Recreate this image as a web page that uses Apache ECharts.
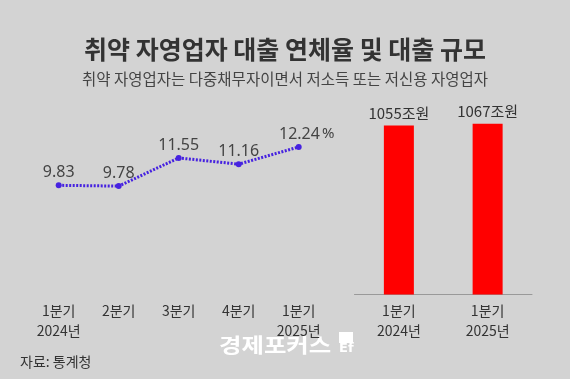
<!DOCTYPE html>
<html><head><meta charset="utf-8">
<script src="https://cdn.jsdelivr.net/npm/echarts@6/dist/echarts.min.js"></script>
<style>html,body{margin:0;padding:0;background:#d3d3d3;}#c{width:570px;height:379px;}</style>
</head><body><div id="c"></div>
<script>
const lineCategories = ['1분기\n2024년', '2분기', '3분기', '4분기', '1분기\n2025년'];
const lineValues = [9.83, 9.78, 11.55, 11.16, 12.24];
const barCategories = ['1분기\n2024년', '1분기\n2025년'];
const barValues = [1055, 1067];
const titleText = '취약 자영업자 대출 연체율 및 대출 규모';
const subtitleText = '취약 자영업자는 다중채무자이면서 저소득 또는 저신용 자영업자';
const sourceText = '자료: 통계청';

const KR = '"Noto Sans CJK KR", "Noto Sans", sans-serif';
const chart = echarts.init(document.getElementById('c'), null, {renderer: 'canvas'});

const lineData = lineValues.map((v, i) => {
  const item = {value: v};
  if (i === lineValues.length - 1) {
    item.label = {formatter: '{a|{c}}{p|%}', offset: [8, 0]};
  }
  return item;
});

chart.setOption({
  backgroundColor: '#d3d3d3',
  animation: false,
  grid: [
    {left: 28.7, width: 300, top: 119, height: 159},
    {left: 354.5, right: 38, top: 102.4, bottom: 84.5}
  ],
  xAxis: [
    {gridIndex: 0, type: 'category', data: lineCategories, boundaryGap: true,
     axisLine: {show: false}, axisTick: {show: false},
     axisLabel: {margin: 23, color: '#333', fontFamily: KR, fontSize: 14, lineHeight: 20, interval: 0}},
    {gridIndex: 1, type: 'category', data: barCategories,
     axisLine: {show: true, lineStyle: {color: '#999', width: 1}}, axisTick: {show: false},
     axisLabel: {margin: 6.5, color: '#333', fontFamily: KR, fontSize: 14, lineHeight: 20, interval: 0}}
  ],
  yAxis: [
    {gridIndex: 0, type: 'value', min: 4, max: 14, show: false},
    {gridIndex: 1, type: 'value', min: 0, max: 1200, show: false}
  ],
  series: [
    {type: 'line', xAxisIndex: 0, yAxisIndex: 0, data: lineData,
     lineStyle: {color: '#4622e0', width: 3, type: [2, 1.5]},
     itemStyle: {color: '#4622e0'},
     symbol: 'circle', symbolSize: 6,
     label: {show: true, position: 'top', distance: 2, color: '#444',
       fontFamily: '"Noto Sans", sans-serif', fontSize: 16,
       formatter: '{a|{c}}',
       rich: {a: {fontFamily: '"Noto Sans", sans-serif', fontSize: 16, color: '#444'},
              p: {fontFamily: '"Noto Sans", sans-serif', fontSize: 15, color: '#444', padding: [0, 0, 0, 2]}}}},
    {type: 'bar', xAxisIndex: 1, yAxisIndex: 1, data: barValues, barWidth: 30,
     itemStyle: {color: '#ff0000'},
     label: {show: true, position: 'top', distance: 5, color: '#333',
       fontFamily: KR, fontSize: 15, formatter: '{c}조원'}}
  ],
  graphic: [
    {type: 'text', left: 'center', top: 37, style: {text: titleText, font: 'bold 25px ' + KR, fill: '#333'}},
    {type: 'text', left: 'center', top: 71, style: {text: subtitleText, font: '15.5px ' + KR, fill: '#444'}},
    {type: 'text', left: 20, top: 355, style: {text: sourceText, font: '14px ' + KR, fill: '#333'}},
    {type: 'text', x: 219, y: 335, scaleX: 1.22, style: {text: '경제포커스', font: 'bold 20px ' + KR, fill: '#ffffff'}},
    {type: 'rect', shape: {x: 339, y: 332, width: 14, height: 11}, style: {fill: '#ffffff'}},
    {type: 'text', left: 339, top: 342, style: {text: 'Ef', font: 'bold 13px "DejaVu Sans"', fill: '#ffffff'}}
  ]
});
</script></body></html>
